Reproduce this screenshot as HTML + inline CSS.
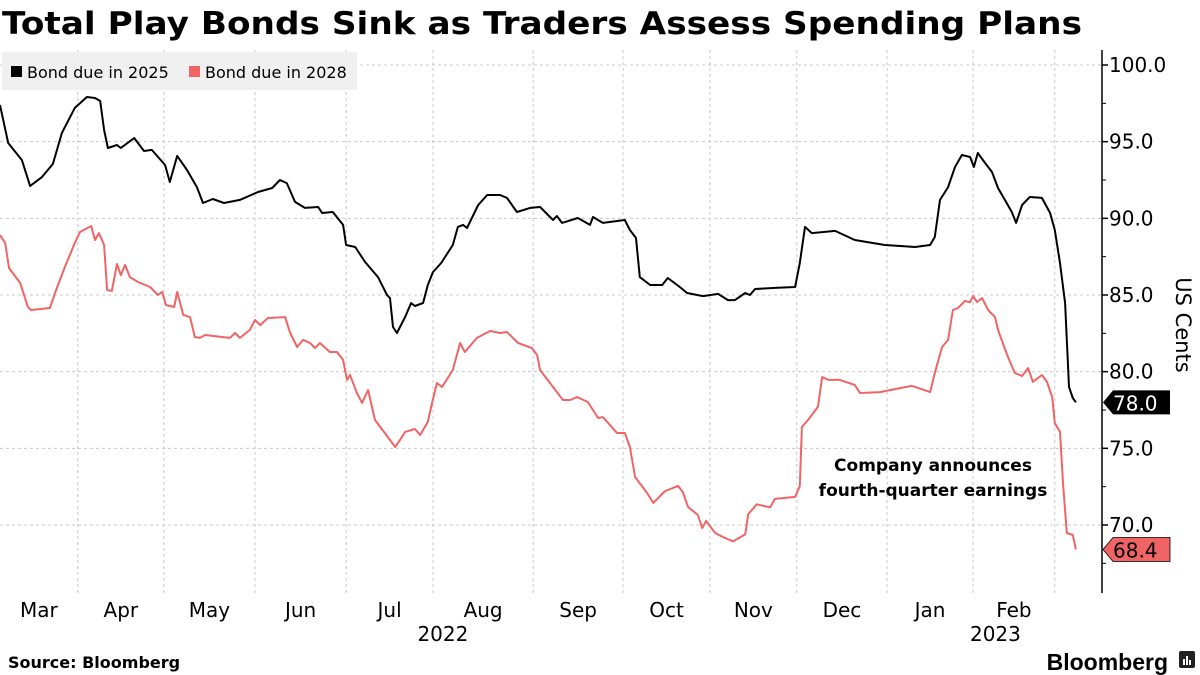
<!DOCTYPE html>
<html><head><meta charset="utf-8"><style>
html,body{margin:0;padding:0;background:#fff;}
svg{display:block;font-family:"DejaVu Sans","Liberation Sans",sans-serif;}
</style></head><body>
<svg id="chart" width="1200" height="675" viewBox="0 0 1200 675" xmlns="http://www.w3.org/2000/svg">
<text x="2" y="34" font-size="31" font-weight="bold" textLength="1080" lengthAdjust="spacingAndGlyphs">Total Play Bonds Sink as Traders Assess Spending Plans</text>
<g id="grid"></g>
<rect x="2" y="52" width="355" height="38" fill="#f0f0f0"/>
<g><rect x="11" y="66" width="11" height="11" fill="#000"/><text x="27" y="78" font-size="16">Bond due in 2025</text></g>
<g><rect x="189" y="66" width="11" height="11" fill="#f06464"/><text x="205" y="78" font-size="16">Bond due in 2028</text></g>
<g id="series"></g>
<g id="axis"></g>
<g id="xaxis"></g>
<text transform="translate(1176,325) rotate(90)" font-size="21" text-anchor="middle">US Cents</text>
<g font-size="17" font-weight="bold" text-anchor="middle"><text x="933" y="471">Company announces</text><text x="933" y="496">fourth-quarter earnings</text></g>
<text x="8" y="668" font-size="16" font-weight="bold">Source: Bloomberg</text>
<text x="1168" y="670" font-size="23" font-weight="bold" text-anchor="end" font-family="Liberation Sans, sans-serif">Bloomberg</text>
<g><rect x="1179" y="651" width="16" height="17" rx="2" fill="#222"/><rect x="1183" y="659" width="2" height="6" fill="#fff"/><rect x="1186" y="656" width="2" height="9" fill="#fff"/><rect x="1189" y="660" width="2" height="5" fill="#fff"/></g>
</svg>
<script>
const days2025=[0,1.9,5.1,7.0,9.8,12.3,14.4,17.4,20.2,22.1,23.3,24.2,25.1,27.2,28.1,31.2,33.5,35.3,38.4,39.5,41.2,43.5,45.8,47.2,49.5,52.1,55.8,60.0,63.3,65.1,66.7,68.6,70.9,74.0,74.9,77.4,79.8,80.5,82.6,84.9,87.9,90.0,90.7,91.4,92.3,94.2,95.6,96.5,98.4,99.5,100.7,102.6,105.3,106.5,107.7,108.6,111.2,113.3,116.3,117.9,120.2,123.3,125.6,128.6,129.5,130.7,134.4,137.2,137.9,140.2,145.3,146.5,147.9,148.8,151.2,154.0,155.3,158.1,159.8,163.5,167.0,169.3,170.9,173.3,174.4,175.6,180.2,184.9,186.0,187.2,188.8,194.2,198.8,205.8,212.8,216.3,217.4,218.6,220.5,222.1,223.7,225.6,226.5,227.4,229.1,230.7,232.1,233.7,235.3,236.3,237.7,239.5,242.3,244.2,245.3,246.5,247.7,248.6,249.5,250.2];
const values2025=[97.39,94.91,93.80,92.11,92.70,93.55,95.57,97.20,97.91,97.85,97.65,95.76,94.59,94.78,94.59,95.24,94.39,94.46,93.48,92.37,94.07,93.15,92.04,91.0,91.26,91.0,91.2,91.72,91.98,92.5,92.3,91.07,90.68,90.74,90.35,90.41,89.57,88.26,88.13,87.15,86.17,85.0,84.8,82.91,82.52,83.56,84.48,84.28,84.48,85.65,86.5,87.09,88.26,89.44,89.57,89.37,90.87,91.52,91.52,91.33,90.41,90.68,90.74,89.89,90.15,89.7,90.02,89.57,90.09,89.7,89.89,89.24,88.72,86.17,85.65,85.65,86.11,85.52,85.13,84.93,85.07,84.67,84.67,85.13,85.0,85.39,85.46,85.52,87.09,89.44,89.04,89.18,88.59,88.26,88.13,88.26,88.78,91.2,92.04,93.35,94.13,94.0,93.35,94.26,93.61,93.02,91.98,91.2,90.41,89.7,90.87,91.39,91.33,90.35,89.24,87.09,84.48,79.0,78.28,78.0];
const days2028=[0,1.2,2.1,4.7,6.5,7.2,11.6,12.8,15.1,17.4,18.6,21.2,22.1,23.0,24.2,24.9,26.0,27.2,28.1,29.1,30.2,32.1,34.9,36.7,37.7,38.6,40.5,41.2,42.6,44.2,45.3,46.5,47.7,51.6,53.5,54.7,55.8,58.1,59.3,60.5,62.3,66.3,67.4,69.1,70.5,72.1,73.3,74.4,76.7,78.4,79.8,80.7,81.4,83.0,84.2,85.6,87.2,89.5,91.9,93.0,94.2,96.5,97.7,99.5,100.5,101.6,102.8,105.3,107.0,108.1,110.9,114.0,116.3,117.9,120.5,123.7,124.9,125.6,127.9,130.9,132.6,134.2,136.7,139.1,140.2,143.5,145.3,146.5,147.7,150.5,151.9,154.7,157.7,158.8,160.0,162.3,163.3,164.2,166.3,168.1,170.5,173.3,174.0,176.0,179.1,180.2,184.9,186.0,186.5,187.9,190.2,191.2,192.6,195.3,198.8,200.0,204.7,209.3,212.1,216.3,217.4,219.1,220.5,221.6,222.8,224.4,225.6,226.3,227.2,228.4,229.8,231.4,232.1,234.4,236.0,237.7,239.1,240.2,242.3,243.5,244.7,245.3,246.5,247.2,248.1,249.5,250.2];
const values2028=[88.91,88.39,86.76,85.78,84.22,84.02,84.15,85.13,86.83,88.39,89.11,89.5,88.59,89.04,88.26,85.33,85.26,87.02,86.3,86.96,86.17,85.85,85.52,85.0,85.2,84.35,84.22,85.2,83.7,83.56,82.26,82.2,82.39,82.26,82.2,82.52,82.2,82.72,83.37,83.04,83.5,83.56,82.59,81.61,82.07,81.87,81.54,81.87,81.28,81.28,80.76,79.46,79.78,78.61,77.96,78.8,76.85,76.0,75.09,75.54,76.07,76.26,75.87,76.72,77.96,79.26,79.0,80.11,81.87,81.28,82.2,82.65,82.52,82.59,81.87,81.54,81.09,80.11,79.26,78.15,78.15,78.35,78.02,76.98,77.04,76.0,76.0,75.09,73.13,72.09,71.44,72.22,72.55,72.15,71.18,70.65,69.8,70.26,69.48,69.22,68.93,69.39,70.7,71.35,71.15,71.7,71.83,72.54,76.39,76.85,77.7,79.65,79.46,79.46,79.13,78.61,78.67,78.93,79.07,78.67,79.91,81.61,82.07,84.02,84.15,84.61,84.54,84.93,84.54,84.8,84.02,83.56,82.72,80.96,79.91,79.72,80.24,79.33,79.78,79.33,78.35,76.65,76.07,72.74,69.48,69.35,68.4];
const monthBoundaryDays=[18.1,38.1,59.3,80.5,100.7,124.0,144.9,165.1,185.3,206.3,226.3,245.3];
const monthLabels=["Mar","Apr","May","Jun","Jul","Aug","Sep","Oct","Nov","Dec","Jan","Feb"];
const yTicks=[70,75,80,85,90,95,100];
const yMinorTicks=[67.5,72.5,77.5,82.5,87.5,92.5,97.5];
const yearLabels=["2022","2023"];
const yearLabelDays=[103,231.5];

const NS="http://www.w3.org/2000/svg";
const DAYW=4.3, PLOT_R=1102, PLOT_T=50, PLOT_B=593;
const x=d=>d*DAYW;
const y=v=>65+(100-v)*(460/30);
function mk(tag,attrs,parent){const e=document.createElementNS(NS,tag);for(const k in attrs)e.setAttribute(k,attrs[k]);parent.appendChild(e);return e;}
const grid=document.getElementById('grid'),series=document.getElementById('series'),axis=document.getElementById('axis'),xaxis=document.getElementById('xaxis');
yTicks.forEach(v=>{
  const l=mk('line',{x1:0,x2:PLOT_R,y1:y(v),y2:y(v),stroke:'#c8c8c8','stroke-dasharray':'3,3','stroke-width':1},grid);
  
  
  const t=mk('line',{x1:PLOT_R,x2:PLOT_R+6,y1:y(v),y2:y(v),stroke:'#000','stroke-width':1.5},axis);
  
  
  const tx=mk('text',{x:PLOT_R+7,y:y(v)+7,'font-size':20},axis);
  tx.textContent=v.toFixed(1);
  
  
});
yMinorTicks.forEach(v=>{
  const t=mk('line',{x1:PLOT_R,x2:PLOT_R+4,y1:y(v),y2:y(v),stroke:'#000','stroke-width':1},axis);
  
  
});
const al=mk('line',{x1:PLOT_R,x2:PLOT_R,y1:PLOT_T,y2:PLOT_B,stroke:'#000','stroke-width':1.5},axis);


monthBoundaryDays.forEach(d=>{
  const l=mk('line',{x1:x(d),x2:x(d),y1:PLOT_T,y2:PLOT_B,stroke:'#c8c8c8','stroke-dasharray':'3,3','stroke-width':1},grid);
  
  
});
monthLabels.forEach((m,i)=>{
  const a=i===0?0:monthBoundaryDays[i-1], b=monthBoundaryDays[i];
  const t=mk('text',{x:x((a+b)/2),y:617,'font-size':20,'text-anchor':'middle'},xaxis);
  t.textContent=m;
  
  
});
yearLabels.forEach((yr,i)=>{
  const t=mk('text',{x:x(yearLabelDays[i]),y:641,'font-size':20,'text-anchor':'middle'},xaxis);
  t.textContent=yr;
  
  
});
function line(days,vals,color,name){
  const p=mk('polyline',{points:days.map((d,i)=>x(d).toFixed(1)+','+y(vals[i]).toFixed(1)).join(' '),fill:'none',stroke:color,'stroke-width':2,'stroke-linejoin':'round'},series);
  
  
}
line(days2028,values2028,'#f06464','line-bond-2028');
line(days2025,values2025,'#000','line-bond-2025');
function lastTag(vals,bg,fg,name){
  const v=vals[vals.length-1], cy=y(v);
  const g=mk('g',{},axis);
  
  
  mk('path',{d:`M${PLOT_R+1},${cy} L${PLOT_R+11},${cy-12} L${PLOT_R+68},${cy-12} L${PLOT_R+68},${cy+12} L${PLOT_R+11},${cy+12} Z`,fill:bg,stroke:'#000','stroke-width':bg==='#000'?0:0.8},g);
  const t=mk('text',{x:PLOT_R+11,y:cy+8,'font-size':20,fill:fg},g);
  t.textContent=v.toFixed(1);
}
lastTag(values2025,'#000','#fff','last-value-2025');
lastTag(values2028,'#f06464','#000','last-value-2028');
</script>
</body></html>
